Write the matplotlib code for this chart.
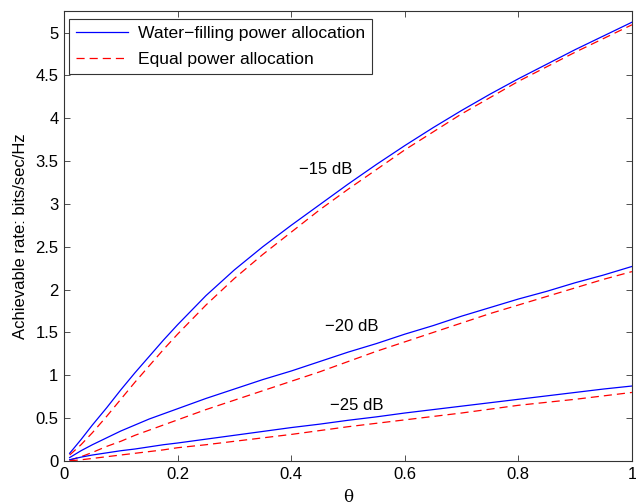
import numpy as np
import matplotlib
matplotlib.use("Agg")
import matplotlib.pyplot as plt

# theta grid and rates
theta = [0.01, 0.02, 0.03, 0.05, 0.075, 0.1, 0.125, 0.15, 0.175, 0.2,
         0.25, 0.3, 0.35, 0.4, 0.45, 0.5, 0.55, 0.6, 0.65, 0.7,
         0.75, 0.8, 0.85, 0.9, 0.95, 1.0]

# -15 dB
wf_15 = [0.09, 0.17, 0.25, 0.42, 0.62, 0.83, 1.03, 1.22, 1.41, 1.59,
         1.93, 2.23, 2.50, 2.75, 2.99, 3.23, 3.46, 3.68, 3.89, 4.09,
         4.28, 4.46, 4.63, 4.80, 4.96, 5.12]
eq_15 = [0.07, 0.13, 0.19, 0.33, 0.52, 0.72, 0.92, 1.11, 1.30, 1.48,
         1.82, 2.13, 2.41, 2.67, 2.93, 3.17, 3.40, 3.63, 3.84, 4.05,
         4.24, 4.43, 4.60, 4.77, 4.93, 5.09]

# -20 dB
wf_20 = [0.04, 0.08, 0.12, 0.19, 0.27, 0.35, 0.42, 0.49, 0.55, 0.61,
         0.73, 0.84, 0.95, 1.05, 1.16, 1.27, 1.37, 1.48, 1.58, 1.69,
         1.79, 1.89, 1.98, 2.08, 2.17, 2.27]
eq_20 = [0.01, 0.03, 0.05, 0.10, 0.17, 0.23, 0.30, 0.36, 0.42, 0.48,
         0.60, 0.71, 0.82, 0.93, 1.04, 1.16, 1.28, 1.39, 1.50, 1.61,
         1.72, 1.82, 1.92, 2.02, 2.12, 2.21]

# -25 dB
wf_25 = [0.015, 0.03, 0.045, 0.07, 0.095, 0.12, 0.14, 0.165, 0.19, 0.21,
         0.255, 0.30, 0.345, 0.39, 0.43, 0.475, 0.515, 0.56, 0.60, 0.64,
         0.68, 0.72, 0.76, 0.80, 0.84, 0.875]
eq_25 = [0.003, 0.008, 0.014, 0.03, 0.05, 0.07, 0.09, 0.11, 0.13, 0.155,
         0.19, 0.23, 0.27, 0.31, 0.355, 0.40, 0.44, 0.48, 0.52, 0.56,
         0.605, 0.65, 0.685, 0.72, 0.76, 0.80]

labels = ["\u221215 dB", "\u221220 dB", "\u221225 dB"]
label_pos = [(0.46, 3.40), (0.507, 1.57), (0.516, 0.65)]

plt.rcParams['font.family'] = ['Liberation Sans', 'DejaVu Sans']
plt.rcParams['font.size'] = 12

def main():
    fig = plt.figure(figsize=(6.36, 5.04), dpi=100)
    ax = fig.add_axes([0.1006, 0.0853, 0.893, 0.8927])

    blue = '#0000ff'
    red = '#ff0000'
    dash = (0, (6.5, 4))
    lw = 0.9
    ax.plot(theta, wf_15, color=blue, lw=lw, label='Water\u2212filling power allocation')
    ax.plot(theta, eq_15, color=red, lw=lw, linestyle=dash, label='Equal power allocation')
    ax.plot(theta, wf_20, color=blue, lw=lw)
    ax.plot(theta, eq_20, color=red, lw=lw, linestyle=dash)
    ax.plot(theta, wf_25, color=blue, lw=lw)
    ax.plot(theta, eq_25, color=red, lw=lw, linestyle=dash)

    for txt, (x, y) in zip(labels, label_pos):
        ax.text(x, y, txt, ha='center', va='center', fontsize=12)

    ax.set_xlim(0, 1)
    ax.set_ylim(0, 5.25)
    ax.set_xticks(np.arange(0, 1.01, 0.2))
    ax.set_xticklabels(['0', '0.2', '0.4', '0.6', '0.8', '1'])
    ax.set_yticks(np.arange(0, 5.01, 0.5))
    ax.set_yticklabels(['0', '0.5', '1', '1.5', '2', '2.5', '3', '3.5', '4', '4.5', '5'])
    ax.tick_params(direction='in', top=True, right=True, length=4, width=0.6,
                   labelsize=12, colors='#333333', labelcolor='black', pad=4)
    for s in ax.spines.values():
        s.set_linewidth(0.8)
        s.set_color('#333333')

    ax.set_xlabel('\u03b8', fontsize=12, labelpad=5, family='DejaVu Serif')
    ax.set_ylabel('Achievable rate: bits/sec/Hz', fontsize=12, labelpad=5)

    leg = ax.legend(loc='upper left', bbox_to_anchor=(5 / 568, 1 - 8 / 450),
                    fontsize=12.6, fancybox=False, framealpha=1,
                    edgecolor='#333333', borderaxespad=0, handlelength=3.0,
                    borderpad=0.4, labelspacing=0.6, handletextpad=0.55)
    leg.get_frame().set_linewidth(0.8)

    fig.savefig('out.png', dpi=100)

if __name__ == "__main__":
    main()
